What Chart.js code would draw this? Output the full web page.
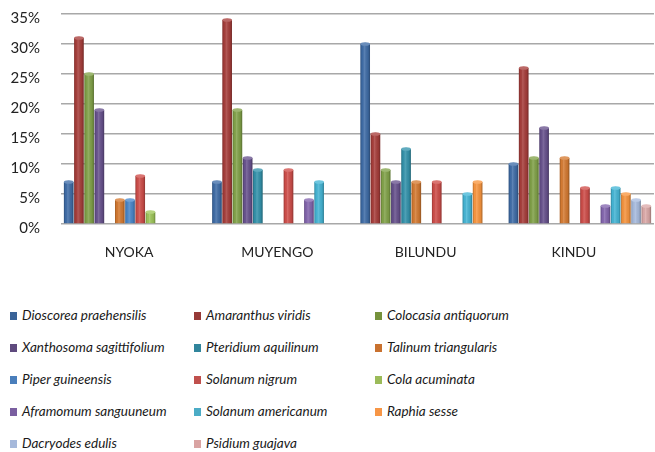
<!DOCTYPE html>
<html>
<head>
<meta charset="utf-8">
<script src="https://cdn.jsdelivr.net/npm/chart.js@4.4.1/dist/chart.umd.min.js"></script>
<style>
  html, body { margin:0; padding:0; background:#fff; }
  body { width:655px; height:452px; position:relative; overflow:hidden; font-family: Lato, "Open Sans", sans-serif; }
  #wrap { position:absolute; left:0; top:0; width:655px; height:270px; }
  #legend { position:absolute; left:0; top:300px; width:655px; height:152px; }
  .item { position:absolute; font-style:italic; font-size:13.5px; color:#1a1a1a; white-space:nowrap; line-height:16px; }
  .sw { display:inline-block; width:7px; height:8px; margin-right:5px; vertical-align:0px; }
</style>
</head>
<body>
<div id="wrap"><canvas id="c" width="655" height="270"></canvas></div>
<div id="legend"></div>
<script>
const categories = ["NYOKA", "MUYENGO", "BILUNDU", "KINDU"];
const seriesNames = [
  "Dioscorea praehensilis", "Amaranthus viridis", "Colocasia antiquorum",
  "Xanthosoma sagittifolium", "Pteridium aquilinum", "Talinum triangularis",
  "Piper guineensis", "Solanum nigrum", "Cola acuminata",
  "Aframomum sanguuneum", "Solanum americanum", "Raphia sesse",
  "Dacryodes edulis", "Psidium guajava"
];
const seriesColors = [
  "#3F6DA8", "#A83E3B", "#82A349", "#68528E", "#3494AD", "#D67B32", "#4A88CC",
  "#D04E4A", "#9FC75A", "#8466AF", "#45B6D6", "#F9963F", "#A9BDE0", "#DDAAA9"
];
const legendColors = [
  "#3A6398", "#963A37", "#76923C", "#5F4A7E", "#31859C", "#C9712F", "#4A7EBB",
  "#C0504D", "#9BBB59", "#7A5FA0", "#4BACC6", "#F79646", "#A6B9DB", "#D9A3A2"
];
// values in % per category (NYOKA, MUYENGO, BILUNDU, KINDU)
const dioscorea   = [7, 7, 30, 10];
const amaranthus  = [31, 34, 15, 26];
const colocasia   = [25, 19, 9, 11];
const xanthosoma  = [19, 11, 7, 16];
const pteridium   = [null, 9, 12.5, null];
const talinum     = [4, null, 7, 11];
const piper       = [4, null, null, null];
const solanumNig  = [8, 9, 7, 6];
const cola        = [2, null, null, null];
const aframomum   = [null, 4, null, 3];
const solanumAm   = [null, 7, 5, 6];
const raphia      = [null, null, 7, 5];
const dacryodes   = [null, null, null, 4];
const psidium     = [null, null, null, 3];
const yTicks = [0, 5, 10, 15, 20, 25, 30, 35];

const seriesValues = [dioscorea, amaranthus, colocasia, xanthosoma, pteridium, talinum,
  piper, solanumNig, cola, aframomum, solanumAm, raphia, dacryodes, psidium];

const datasets = seriesNames.map((n, i) => ({
  label: n,
  data: seriesValues[i],
  backgroundColor: seriesColors[i],
  borderWidth: 0,
  categoryPercentage: 0.965,
  barPercentage: 0.94
}));

const shade = {
  id: 'shade',
  afterDatasetsDraw(chart) {
    const ctx = chart.ctx;
    chart.data.datasets.forEach((ds, di) => {
      const meta = chart.getDatasetMeta(di);
      meta.data.forEach((bar, i) => {
        if (ds.data[i] == null) return;
        const w = bar.width, x0 = bar.x - w / 2, top = bar.y, base = bar.base;
        const g = ctx.createLinearGradient(x0, 0, x0 + w, 0);
        g.addColorStop(0, 'rgba(0,0,0,0.25)');
        g.addColorStop(0.18, 'rgba(0,0,0,0.02)');
        g.addColorStop(0.4, 'rgba(255,255,255,0.15)');
        g.addColorStop(0.8, 'rgba(0,0,0,0.08)');
        g.addColorStop(1, 'rgba(0,0,0,0.32)');
        ctx.save();
        ctx.fillStyle = g;
        ctx.fillRect(x0, top, w, base - top);
        ctx.beginPath();
        ctx.ellipse(bar.x, top, w / 2, 1.8, 0, 0, Math.PI * 2);
        ctx.fillStyle = seriesColors[di];
        ctx.fill();
        ctx.fillStyle = 'rgba(255,255,255,0.22)';
        ctx.fill();
        ctx.restore();
      });
    });
  }
};

const chart = new Chart(document.getElementById('c'), {
  type: 'bar',
  data: { labels: categories, datasets },
  options: {
    responsive: false,
    animation: false,
    layout: { padding: { top: 14, right: 1, left: 0, bottom: 0 } },
    plugins: { legend: { display: false }, tooltip: { enabled: false } },
    scales: {
      x: {
        grid: { display: false, drawTicks: false },
        border: { display: false },
        ticks: { color: '#222', font: { family: 'Lato', size: 14 }, padding: 20, labelOffset: -6 },
        afterFit(s) { s.height = 46; s.paddingLeft = 0; s.paddingRight = 0; }
      },
      y: {
        min: 0, max: 35,
        afterBuildTicks(s) { s.ticks = yTicks.map(v => ({ value: v })); },
        grid: { color: '#a8a8a8', lineWidth: 1.6, drawTicks: false },
        border: { display: false },
        ticks: { color: '#222', font: { family: 'Lato', size: 15 }, padding: 21, labelOffset: 4,
          callback: v => v + '%' },
        afterFit(s) { s.width = 61; s.paddingTop = 0; s.paddingBottom = 0; }
      }
    }
  },
  plugins: [shade]
});

// HTML legend built from the chart datasets
const legend = document.getElementById('legend');
const colX = [10, 194, 375];
chart.data.datasets.forEach((ds, i) => {
  const d = document.createElement('div');
  d.className = 'item';
  d.style.left = colX[i % 3] + 'px';
  d.style.top = (7 + Math.floor(i / 3) * 32) + 'px';
  const sw = document.createElement('span');
  sw.className = 'sw';
  sw.style.background = legendColors[i];
  d.appendChild(sw);
  d.appendChild(document.createTextNode(ds.label));
  legend.appendChild(d);
});
</script>
</body>
</html>
